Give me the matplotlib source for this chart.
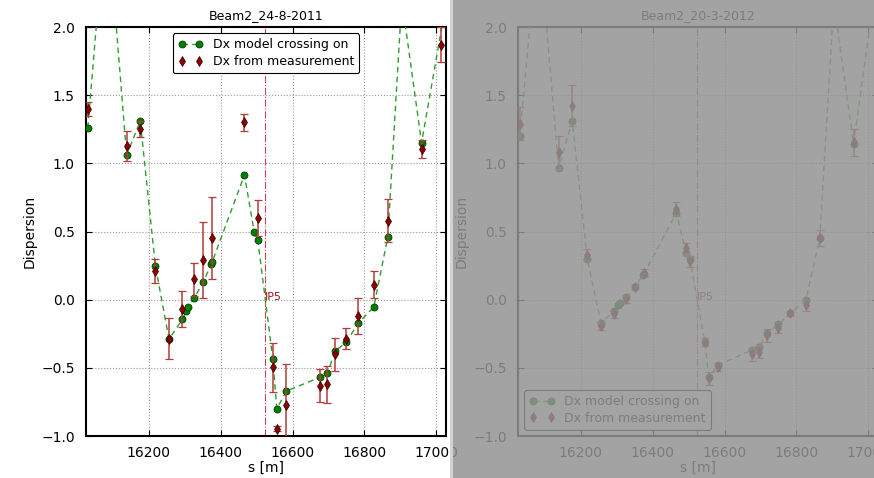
import matplotlib
matplotlib.use("Agg")
import matplotlib.pyplot as plt
from matplotlib.patches import Rectangle

# BPM / model positions along the ring [m]
s_model = [16030, 16082, 16138, 16176, 16218, 16256, 16293, 16304, 16310, 16326,
           16352, 16373, 16376, 16466, 16493, 16503, 16545, 16556, 16583, 16676,
           16697, 16718, 16750, 16783, 16826, 16865, 16904, 16959, 17022]

dx_model_2011 = [1.26, 2.90, 1.06, 1.31, 0.25, -0.29, -0.145, -0.086, -0.057, 0.012,
                 0.13, 0.26, 0.275, 0.915, 0.50, 0.44, -0.435, -0.80, -0.67, -0.57,
                 -0.54, -0.38, -0.31, -0.17, -0.055, 0.46, 2.20, 1.15, 2.10]

dx_model_2012 = [1.204, 2.69, 0.967, 1.309, 0.295, -0.169, -0.083, -0.042, -0.027, 0.019,
                 0.095, 0.183, 0.19, 0.637, 0.339, 0.30, -0.311, -0.567, -0.479, -0.369,
                 -0.344, -0.242, -0.181, -0.10, -0.005, 0.454, 2.18, 1.143, 2.35]

s_meas_2011 = [16030, 16138, 16176, 16218, 16256, 16293, 16326, 16352, 16376, 16466,
               16503, 16545, 16556, 16583, 16676, 16697, 16718, 16750, 16783, 16826,
               16865, 16959, 17013]
dx_meas_2011 = [1.40, 1.125, 1.25, 0.21, -0.285, -0.07, 0.15, 0.29, 0.45, 1.30,
                0.60, -0.495, -0.945, -0.775, -0.63, -0.62, -0.40, -0.285, -0.12, 0.11,
                0.58, 1.105, 1.87]
err_meas_2011 = [0.05, 0.11, 0.06, 0.085, 0.15, 0.13, 0.12, 0.28, 0.30, 0.065,
                 0.13, 0.18, 0.02, 0.30, 0.12, 0.135, 0.12, 0.075, 0.135, 0.10,
                 0.16, 0.065, 0.13]

s_meas_2012 = [16030, 16138, 16176, 16218, 16256, 16293, 16326, 16352, 16376, 16466,
               16493, 16503, 16545, 16556, 16583, 16676, 16697, 16718, 16750, 16783,
               16826, 16865, 16959]
dx_meas_2012 = [1.292, 1.081, 1.423, 0.33, -0.193, -0.108, 0.002, 0.095, 0.193, 0.667,
                0.378, 0.28, -0.311, -0.577, -0.494, -0.401, -0.381, -0.262, -0.205, -0.10,
                -0.042, 0.454, 1.155]
err_meas_2012 = [0.12, 0.12, 0.15, 0.04, 0.03, 0.03, 0.03, 0.02, 0.03, 0.05,
                 0.04, 0.04, 0.03, 0.05, 0.03, 0.05, 0.05, 0.05, 0.04, 0.02,
                 0.04, 0.06, 0.10]

S_IP5 = 16524
XLIM = (16025, 17027)
YLIM = (-1.0, 2.0)

plt.rcParams["font.family"] = "DejaVu Sans"

W, H = 874, 478
fig = plt.figure(figsize=(W / 100, H / 100), dpi=100)
fig.patch.set_facecolor("white")

ax_l = fig.add_axes([86 / W, 1 - 436 / H, 360 / W, 409 / H])
ax_r = fig.add_axes([518 / W, 1 - 436 / H, 360 / W, 409 / H])


def draw_panel(ax, title, dx_model, s_meas, dx_meas, err, legend_loc):
    ax.plot(s_model, dx_model, linestyle="--", dashes=(4, 3), color="#2e9e2e", lw=1.0,
            marker="o", ms=5, mfc="#008000", mec="#003a00", mew=0.6,
            label="Dx model crossing on", zorder=3)
    ax.errorbar(s_meas, dx_meas, yerr=err, fmt="none", ecolor="#b43a3a",
                elinewidth=1.1, capsize=3, capthick=0.9, zorder=4)
    ax.plot(s_meas, dx_meas, linestyle="none", marker="d", ms=5, mfc="#8b0000",
            mec="#300000", mew=0.5, label="Dx from measurement", zorder=5)
    ax.axvline(S_IP5, color="#c8405a", linestyle="-.", lw=0.8, zorder=2)
    ax.text(S_IP5, 0.02, "IP5", color="#a01818", fontsize=8, ha="left", va="center")

    ax.set_xlim(*XLIM)
    ax.set_ylim(*YLIM)
    ax.set_xticks([16200, 16400, 16600, 16800, 17000])
    ax.set_yticks([-1.0, -0.5, 0.0, 0.5, 1.0, 1.5, 2.0])
    ax.set_yticklabels(["\u22121.0", "\u22120.5", "0.0", "0.5", "1.0", "1.5", "2.0"])
    ax.tick_params(direction="in", top=True, right=True, length=4, labelsize=10)
    ax.tick_params(axis="y", pad=8)
    ax.tick_params(axis="x", pad=7)
    ax.grid(True, color="0.6", linestyle=":", linewidth=0.8)
    for sp in ax.spines.values():
        sp.set_linewidth(1.5)
    ax.set_title(title, fontsize=9, pad=6)
    ax.set_xlabel("s [m]", fontsize=10, labelpad=1)
    ax.set_ylabel("Dispersion", fontsize=10, labelpad=3)
    leg = ax.legend(loc=legend_loc, numpoints=2, fontsize=9, fancybox=True,
                    framealpha=1, edgecolor="black", borderpad=0.4,
                    handlelength=2.0, labelspacing=0.3)
    leg.get_frame().set_linewidth(0.8)


draw_panel(ax_l, "Beam2_24-8-2011", dx_model_2011, s_meas_2011, dx_meas_2011,
           err_meas_2011, "upper center")
draw_panel(ax_r, "Beam2_20-3-2012", dx_model_2012, s_meas_2012, dx_meas_2012,
           err_meas_2012, "lower left")

# grey "inactive" veil over the right-hand panel
fig.add_artist(Rectangle((450 / W, 0), 3 / W, 1, transform=fig.transFigure,
                         facecolor="#d2d2d2", edgecolor="none", zorder=20))
fig.add_artist(Rectangle((453 / W, 0), 1 - 453 / W, 1, transform=fig.transFigure,
                         facecolor="#939393", edgecolor="none", alpha=0.85, zorder=20))

fig.savefig("out.png", dpi=100)
